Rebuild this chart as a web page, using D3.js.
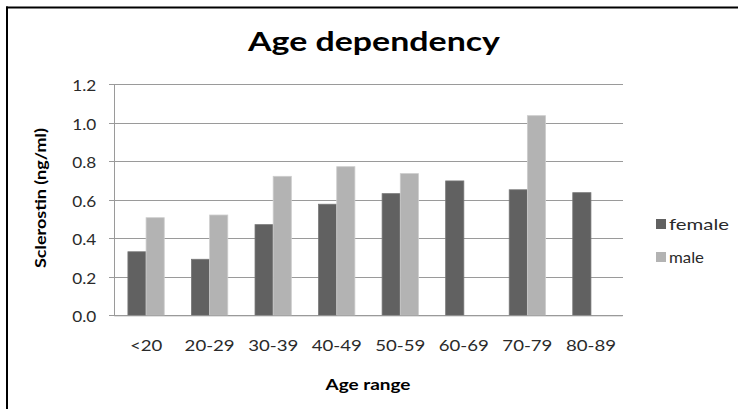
<!DOCTYPE html>
<html>
<head>
<meta charset="utf-8">
<script src="https://cdn.jsdelivr.net/npm/d3@7"></script>
<style>
  html, body { margin: 0; padding: 0; background: #fff; }
  svg { display: block; }
  text { font-family: Lato, "Open Sans", sans-serif; }
</style>
</head>
<body>
<svg id="chart" width="738" height="409"></svg>
<script>
// ---- data ----
const categories = ["<20", "20-29", "30-39", "40-49", "50-59", "60-69", "70-79", "80-89"];
const seriesNames = ["female", "male"];
const femaleValues = [0.330, 0.291, 0.471, 0.577, 0.632, 0.698, 0.652, 0.637];
const maleValues   = [0.507, 0.521, 0.722, 0.772, 0.736, null, 1.037, null];
const yTicks = [0.0, 0.2, 0.4, 0.6, 0.8, 1.0, 1.2];
const titleText = "Age dependency";
const xTitle = "Age range";
const yTitle = "Sclerostin (ng/ml)";

const colors = { female: "#616161", male: "#b3b3b3" };
const strokes = { female: "#777777", male: "#cdcdcd" };

const svg = d3.select("#chart");

// frame (top and left lines)
svg.append("line").attr("x1", 6).attr("x2", 738).attr("y1", 7.5).attr("y2", 7.5)
  .attr("stroke", "#000").attr("stroke-width", 2);
svg.append("line").attr("x1", 7).attr("x2", 7).attr("y1", 6.5).attr("y2", 409)
  .attr("stroke", "#000").attr("stroke-width", 2);

const plot = { left: 114.3, right: 622.7, top: 84.3, bottom: 315.3 };

const y = d3.scaleLinear().domain([0, 1.2]).range([plot.bottom, plot.top]);
const p = 1.5 / 3.5;
const x0 = d3.scaleBand().domain(categories).range([plot.left, plot.right])
  .paddingInner(p).paddingOuter(p / 2);
const x1 = d3.scaleBand().domain(seriesNames).range([0, x0.bandwidth()]).padding(0);

function stretch(sel, w) {
  sel.each(function () {
    this.setAttribute("textLength", w);
    this.setAttribute("lengthAdjust", "spacingAndGlyphs");
  });
}

// gridlines + y axis via d3.axisLeft
const yAxis = d3.axisLeft(y).tickValues(yTicks).tickFormat(d3.format(".1f"))
  .tickSize(-(plot.right - plot.left)).tickPadding(0);
const gy = svg.append("g").attr("transform", `translate(${plot.left},0)`).call(yAxis);
gy.select(".domain").remove();
gy.selectAll(".tick line").attr("stroke", "#9a9a9a").attr("stroke-width", 1)
  .attr("x1", -5).attr("shape-rendering", "crispEdges");
gy.selectAll(".tick text")
  .attr("x", -18).attr("dy", "0.55em").attr("y", -2)
  .attr("fill", "#2a2a2a").attr("font-size", 15).attr("font-family", "Lato, sans-serif")
  .each(function () { this.setAttribute("textLength", 24); this.setAttribute("lengthAdjust", "spacingAndGlyphs"); });

// left axis line
svg.append("line").attr("x1", plot.left).attr("x2", plot.left)
  .attr("y1", plot.top).attr("y2", plot.bottom)
  .attr("stroke", "#9a9a9a").attr("shape-rendering", "crispEdges");

// bars
const rows = categories.map((c, i) => ({ cat: c, female: femaleValues[i], male: maleValues[i] }));
const groups = svg.append("g").selectAll("g").data(rows).join("g")
  .attr("transform", d => `translate(${x0(d.cat)},0)`);
groups.selectAll("rect")
  .data(d => seriesNames.map(s => ({ s, v: d[s] })).filter(e => e.v != null))
  .join("rect")
  .attr("x", d => x1(d.s))
  .attr("y", d => y(d.v))
  .attr("width", x1.bandwidth())
  .attr("height", d => y(0) - y(d.v))
  .attr("fill", d => colors[d.s])
  .attr("stroke", d => strokes[d.s]).attr("stroke-width", 0.8);

// bottom axis via d3.axisBottom
const xAxis = d3.axisBottom(x0).tickSize(0).tickPadding(0);
const gx = svg.append("g").attr("transform", `translate(0,${plot.bottom})`).call(xAxis);
gx.select(".domain").attr("stroke", "#9a9a9a").attr("d", `M${plot.left},0.5H${plot.right}`);
gx.selectAll(".tick text")
  .attr("y", 35.5).attr("dy", 0)
  .attr("fill", "#2a2a2a").attr("font-size", 15).attr("font-family", "Lato, sans-serif")
  .each(function (d) {
    const n = this.getComputedTextLength();
    this.setAttribute("textLength", n * 1.24);
    this.setAttribute("lengthAdjust", "spacingAndGlyphs");
  });

// title
svg.append("text").attr("x", 374).attr("y", 51).attr("text-anchor", "middle")
  .attr("font-size", 26).attr("font-weight", "bold").attr("fill", "#000")
  .text(titleText).call(stretch, 252);

// x title
svg.append("text").attr("x", 368).attr("y", 390).attr("text-anchor", "middle")
  .attr("font-size", 16).attr("font-weight", "bold").attr("fill", "#000")
  .text(xTitle).call(stretch, 85);

// y title
svg.append("text").attr("transform", "translate(45.5,198) rotate(-90)").attr("text-anchor", "middle")
  .attr("font-size", 15).attr("font-weight", "bold").attr("fill", "#000")
  .text(yTitle).call(stretch, 140);

// legend
const legend = svg.append("g");
const legendY = [224, 257];
const legendW = [60, 35];
seriesNames.forEach((s, i) => {
  legend.append("rect").attr("x", 656).attr("y", legendY[i] - 5).attr("width", 10).attr("height", 10)
    .attr("fill", colors[s]);
  legend.append("text").attr("x", 669).attr("y", legendY[i]).attr("dy", "0.36em")
    .attr("font-size", 16).attr("fill", "#2a2a2a").text(s).call(stretch, legendW[i]);
});
</script>
</body>
</html>
